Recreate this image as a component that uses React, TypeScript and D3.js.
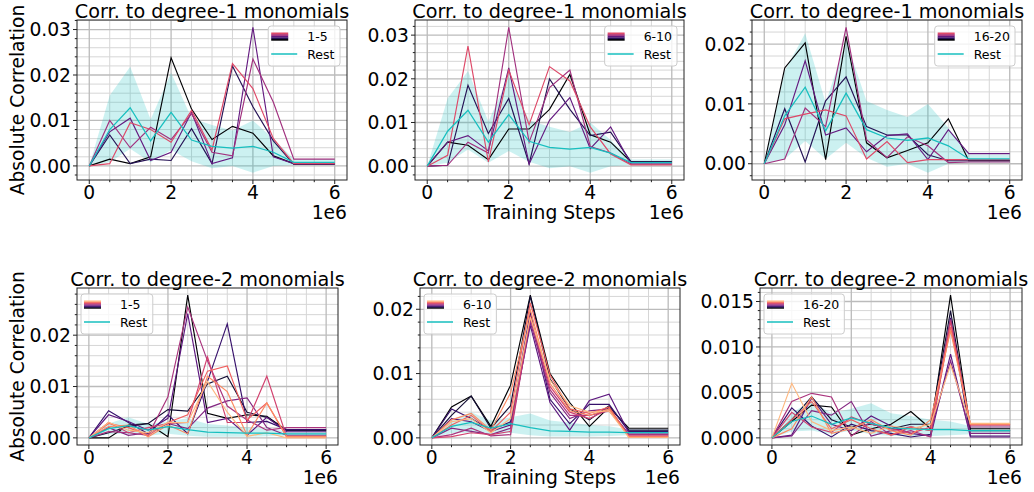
import React from 'react';
import * as d3 from 'd3';

// x positions shared by every panel (training steps)
const steps = [0, 500000, 1000000, 1500000, 2000000, 2500000, 3000000, 3500000, 4000000, 4500000, 5000000, 5500000, 6000000];
const xTickLabels = ['0', '2', '4', '6'];

// "Rest" curve and its band, degree-1 row
const restTopMean = [0, 0.0080, 0.0128, 0.0055, 0.0118, 0.0057, 0.0043, 0.0039, 0.0043, 0.0030, 0.0008, 0.0008, 0.0008];
const restTopHigh = [0, 0.0155, 0.0218, 0.0102, 0.0205, 0.0105, 0.0090, 0.0078, 0.0100, 0.0060, 0.0015, 0.0015, 0.0015];
const restTopLow = [0, 0.0008, 0.0038, 0.0008, 0.0035, 0.0010, -0.0005, 0.0000, -0.0015, 0.0000, 0.0002, 0.0002, 0.0002];

// "Rest" curve and its band, degree-2 row
const restBotMean = [0, 0.0018, 0.0024, 0.0015, 0.0022, 0.0016, 0.0011, 0.0010, 0.0009, 0.0009, 0.0008, 0.0008, 0.0008];
const restBotHigh = [0, 0.0028, 0.0040, 0.0027, 0.0032, 0.0038, 0.0027, 0.0024, 0.0020, 0.0018, 0.0013, 0.0013, 0.0013];
const restBotLow = [0, 0.0007, 0.0008, 0.0004, 0.0008, 0.0004, 0.0002, 0.0002, 0.0002, 0.0003, 0.0004, 0.0004, 0.0004];

// degree-1, neurons 1-5
const tl0 = [0, 0.0015, 0.0005, 0.0020, 0.0238, 0.0125, 0.0058, 0.0087, 0.0072, 0.0022, 0.0005, 0.0005, 0.0005];
const tl1 = [0, 0.0068, 0.0005, 0.0015, 0.0012, 0.0082, 0.0005, 0.0220, 0.0130, 0.0055, 0.0003, 0.0003, 0.0003];
const tl2 = [0, 0.0075, 0.0105, 0.0012, 0.0030, 0.0118, 0.0005, 0.0018, 0.0305, 0.0020, 0.0005, 0.0005, 0.0005];
const tl3 = [0, 0.0100, 0.0040, 0.0085, 0.0058, 0.0115, 0.0030, 0.0022, 0.0235, 0.0140, 0.0015, 0.0015, 0.0015];
const tl4 = [0, 0.0005, 0.0095, 0.0080, 0.0052, 0.0122, 0.0035, 0.0225, 0.0170, 0.0060, 0.0005, 0.0005, 0.0005];

// degree-1, neurons 6-10
const tm0 = [0, 0.0055, 0.0048, 0.0015, 0.0085, 0.0085, 0.0130, 0.0210, 0.0072, 0.0055, 0.0010, 0.0010, 0.0010];
const tm1 = [0, 0.0002, 0.0185, 0.0075, 0.0155, 0.0005, 0.0200, 0.0130, 0.0070, 0.0078, 0.0010, 0.0010, 0.0010];
const tm2 = [0, 0.0055, 0.0070, 0.0035, 0.0225, 0.0005, 0.0105, 0.0157, 0.0040, 0.0090, 0.0005, 0.0005, 0.0005];
const tm3 = [0, 0.0002, 0.0055, 0.0030, 0.0318, 0.0055, 0.0180, 0.0220, 0.0045, 0.0030, 0.0005, 0.0005, 0.0005];
const tm4 = [0, 0.0025, 0.0275, 0.0010, 0.0220, 0.0095, 0.0228, 0.0195, 0.0090, 0.0028, 0.0003, 0.0003, 0.0003];

// degree-1, neurons 16-20
const tr0 = [0, 0.0160, 0.0202, 0.0007, 0.0213, 0.0035, 0.0010, 0.0022, 0.0035, 0.0075, 0.0005, 0.0005, 0.0005];
const tr1 = [0, 0.0092, 0.0003, 0.0105, 0.0145, 0.0062, 0.0048, 0.0048, 0.0015, 0.0005, 0.0005, 0.0005, 0.0005];
const tr2 = [0, 0.0065, 0.0172, 0.0048, 0.0060, 0.0020, 0.0047, 0.0050, 0.0007, 0.0057, 0.0017, 0.0017, 0.0017];
const tr3 = [0, 0.0008, 0.0093, 0.0062, 0.0228, 0.0040, 0.0010, 0.0045, 0.0030, 0.0002, 0.0003, 0.0003, 0.0003];
const tr4 = [0, 0.0075, 0.0083, 0.0090, 0.0080, 0.0008, 0.0037, 0.0002, 0.0007, 0.0007, 0.0007, 0.0007, 0.0007];

// degree-2, neurons 1-5
const bl0 = [0, 0.0000, 0.0025, 0.0028, 0.0002, 0.0278, 0.0048, 0.0038, 0.0045, 0.0042, 0.0015, 0.0015, 0.0015];
const bl1 = [0, 0.0010, 0.0022, 0.0028, 0.0055, 0.0052, 0.0105, 0.0120, 0.0050, 0.0040, 0.0015, 0.0015, 0.0015];
const bl2 = [0, 0.0053, 0.0030, 0.0008, 0.0045, 0.0008, 0.0110, 0.0222, 0.0030, 0.0032, 0.0016, 0.0016, 0.0016];
const bl3 = [0, 0.0045, 0.0032, 0.0015, 0.0038, 0.0242, 0.0030, 0.0038, 0.0005, 0.0040, 0.0012, 0.0012, 0.0012];
const bl4 = [0, 0.0020, 0.0005, 0.0010, 0.0028, 0.0018, 0.0058, 0.0072, 0.0078, 0.0020, 0.0005, 0.0005, 0.0005];
const bl5 = [0, 0.0012, 0.0010, 0.0005, 0.0080, 0.0255, 0.0150, 0.0062, 0.0035, 0.0015, 0.0020, 0.0020, 0.0020];
const bl6 = [0, 0.0030, 0.0010, 0.0020, 0.0028, 0.0030, 0.0158, 0.0030, 0.0030, 0.0120, 0.0002, 0.0002, 0.0002];
const bl7 = [0, 0.0028, 0.0020, 0.0005, 0.0030, 0.0045, 0.0130, 0.0140, 0.0035, 0.0068, 0.0002, 0.0002, 0.0002];
const bl8 = [0, 0.0022, 0.0025, 0.0002, 0.0025, 0.0008, 0.0120, 0.0090, 0.0005, 0.0068, 0.0003, 0.0003, 0.0003];
const bl9 = [0, 0.0030, 0.0015, 0.0010, 0.0030, 0.0030, 0.0110, 0.0050, 0.0003, 0.0010, 0.0000, 0.0000, 0.0000];

// degree-2, neurons 6-10
const bm0 = [0, 0.0048, 0.0065, 0.0018, 0.0082, 0.0222, 0.0100, 0.0055, 0.0018, 0.0048, 0.0015, 0.0015, 0.0015];
const bm1 = [0, 0.0035, 0.0065, 0.0015, 0.0050, 0.0220, 0.0092, 0.0045, 0.0028, 0.0050, 0.0012, 0.0012, 0.0012];
const bm2 = [0, 0.0045, 0.0030, 0.0012, 0.0025, 0.0195, 0.0060, 0.0022, 0.0052, 0.0052, 0.0010, 0.0010, 0.0010];
const bm3 = [0, 0.0030, 0.0025, 0.0010, 0.0020, 0.0175, 0.0055, 0.0012, 0.0058, 0.0068, 0.0008, 0.0008, 0.0008];
const bm4 = [0, 0.0015, 0.0010, 0.0005, 0.0015, 0.0180, 0.0070, 0.0030, 0.0042, 0.0045, 0.0006, 0.0006, 0.0006];
const bm5 = [0, 0.0005, 0.0015, 0.0003, 0.0005, 0.0185, 0.0075, 0.0035, 0.0035, 0.0042, 0.0005, 0.0005, 0.0005];
const bm6 = [0, 0.0002, 0.0008, 0.0005, 0.0010, 0.0190, 0.0080, 0.0040, 0.0030, 0.0045, 0.0003, 0.0003, 0.0003];
const bm7 = [0, 0.0020, 0.0035, 0.0010, 0.0040, 0.0210, 0.0098, 0.0045, 0.0038, 0.0048, 0.0002, 0.0002, 0.0002];
const bm8 = [0, 0.0028, 0.0038, 0.0012, 0.0070, 0.0200, 0.0085, 0.0042, 0.0035, 0.0045, 0.0001, 0.0001, 0.0001];
const bm9 = [0, 0.0025, 0.0030, 0.0008, 0.0030, 0.0188, 0.0090, 0.0050, 0.0040, 0.0042, 0.0001, 0.0001, 0.0001];

// degree-2, neurons 16-20
const br0 = [0, 0.0018, 0.0036, 0.0034, 0.0003, 0.0010, 0.0015, 0.0029, 0.0010, 0.0157, 0.0010, 0.0010, 0.0010];
const br1 = [0, 0.0020, 0.0045, 0.0020, 0.0012, 0.0015, 0.0010, 0.0015, 0.0015, 0.0140, 0.0008, 0.0008, 0.0008];
const br2 = [0, 0.0033, 0.0013, 0.0001, 0.0015, 0.0008, 0.0005, 0.0001, 0.0004, 0.0132, 0.0002, 0.0002, 0.0002];
const br3 = [0, 0.0003, 0.0044, 0.0015, 0.0008, 0.0024, 0.0013, 0.0005, 0.0002, 0.0092, 0.0001, 0.0001, 0.0001];
const br4 = [0, 0.0002, 0.0030, 0.0025, 0.0040, 0.0002, 0.0008, 0.0012, 0.0008, 0.0085, 0.0005, 0.0005, 0.0005];
const br5 = [0, 0.0040, 0.0049, 0.0045, 0.0002, 0.0018, 0.0003, 0.0008, 0.0001, 0.0130, 0.0012, 0.0012, 0.0012];
const br6 = [0, 0.0028, 0.0012, 0.0006, 0.0023, 0.0015, 0.0010, 0.0005, 0.0012, 0.0128, 0.0014, 0.0014, 0.0014];
const br7 = [0, 0.0020, 0.0040, 0.0010, 0.0020, 0.0010, 0.0003, 0.0012, 0.0008, 0.0122, 0.0015, 0.0015, 0.0015];
const br8 = [0, 0.0010, 0.0045, 0.0005, 0.0010, 0.0020, 0.0008, 0.0003, 0.0020, 0.0118, 0.0015, 0.0015, 0.0015];
const br9 = [0, 0.0060, 0.0018, 0.0008, 0.0012, 0.0005, 0.0013, 0.0010, 0.0015, 0.0080, 0.0016, 0.0016, 0.0016];

const FONT = 'DejaVu Sans, sans-serif';
const REST = '#17bfbf';
const topColors = [0, 0.15, 0.3, 0.45, 0.6].map(t => d3.interpolateMagma(t));
const botColors = d3.range(10).map(i => d3.interpolateMagma((i / 9) * 0.85));

const panels = [
  { left: 77, right: 347, top: 20, bottom: 180, title: 'Corr. to degree-1 monomials', label: '1-5', series: [tl0, tl1, tl2, tl3, tl4], colors: topColors, mean: restTopMean, high: restTopHigh, low: restTopLow, yStep: 0.01, legendRight: true, ylabel: true, xlabel: false },
  { left: 415, right: 684, top: 20, bottom: 180, title: 'Corr. to degree-1 monomials', label: '6-10', series: [tm0, tm1, tm2, tm3, tm4], colors: topColors, mean: restTopMean, high: restTopHigh, low: restTopLow, yStep: 0.01, legendRight: true, ylabel: false, xlabel: true },
  { left: 752, right: 1022, top: 20, bottom: 180, title: 'Corr. to degree-1 monomials', label: '16-20', series: [tr0, tr1, tr2, tr3, tr4], colors: topColors, mean: restTopMean, high: restTopHigh, low: restTopLow, yStep: 0.01, legendRight: true, ylabel: false, xlabel: false },
  { left: 77, right: 338, top: 288, bottom: 445, title: 'Corr. to degree-2 monomials', label: '1-5', series: [bl0, bl1, bl2, bl3, bl4, bl5, bl6, bl7, bl8, bl9], colors: botColors, mean: restBotMean, high: restBotHigh, low: restBotLow, yStep: 0.01, legendRight: false, ylabel: true, xlabel: false },
  { left: 420, right: 680, top: 288, bottom: 445, title: 'Corr. to degree-2 monomials', label: '6-10', series: [bm0, bm1, bm2, bm3, bm4, bm5, bm6, bm7, bm8, bm9], colors: botColors, mean: restBotMean, high: restBotHigh, low: restBotLow, yStep: 0.01, legendRight: false, ylabel: false, xlabel: true },
  { left: 760, right: 1022, top: 288, bottom: 445, title: 'Corr. to degree-2 monomials', label: '16-20', series: [br0, br1, br2, br3, br4, br5, br6, br7, br8, br9], colors: botColors, mean: restBotMean, high: restBotHigh, low: restBotLow, yStep: 0.005, legendRight: false, ylabel: false, xlabel: false },
];

const textWidth = (s: string, size: number) => {
  const w: Record<string, number> = { '-': 0.361, R: 0.695, e: 0.615, s: 0.521, t: 0.392 };
  return s.split('').reduce((a, c) => a + (w[c] ?? 0.636), 0) * size;
};

const Panel = ({ p }: { p: any }) => {
  const x = d3.scaleLinear().domain([-300000, 6300000]).range([p.left, p.right]);
  const vals = [...p.series.flat(), ...p.high, ...p.low];
  const lo = Math.min(0, d3.min(vals) as number);
  const hi = d3.max(vals) as number;
  const pad = (hi - lo) * 0.05;
  const y = d3.scaleLinear().domain([lo - pad, hi + pad]).range([p.bottom, p.top]);

  const line = d3.line<number>().x((_, i) => x(steps[i])).y(d => y(d));
  const band = d3.area<number>().x((_, i) => x(steps[i])).y0((_, i) => y(p.low[i])).y1(d => y(d));

  const xMajor = [0, 2000000, 4000000, 6000000];
  const xMinor = d3.range(0, 13).map(k => k * 500000).filter(v => v % 2000000 !== 0);
  const [d0, d1] = y.domain();
  const minorStep = p.yStep / 5;
  const yMinorAll = d3.range(Math.ceil(d0 / minorStep), Math.floor(d1 / minorStep) + 1);
  const yMajor = yMinorAll.filter(k => k % 5 === 0).map(k => k * minorStep);
  const yMinor = yMinorAll.filter(k => k % 5 !== 0).map(k => k * minorStep);
  const decimals = p.yStep < 0.01 ? 3 : 2;
  const fmt = d3.format(`.${decimals}f`);

  // legend
  const textW = Math.max(textWidth(p.label, 12.5), textWidth('Rest', 12.5));
  const lw = 44 + textW;
  const lx = p.legendRight ? p.right - 7 - lw : p.left + 4;
  const ly = p.top + 6;
  const n = p.colors.length;
  const stripeH = 8 / n;

  return (
    <g>
      {/* grid */}
      {xMinor.map(v => (
        <line key={'gx' + v} x1={x(v)} x2={x(v)} y1={p.top} y2={p.bottom} stroke="#d6d6d6" strokeWidth={1} />
      ))}
      {yMinor.map(v => (
        <line key={'gy' + v} x1={p.left} x2={p.right} y1={y(v)} y2={y(v)} stroke="#d6d6d6" strokeWidth={1} />
      ))}
      {xMajor.map(v => (
        <line key={'Gx' + v} x1={x(v)} x2={x(v)} y1={p.top} y2={p.bottom} stroke="#bbbbbb" strokeWidth={1.3} />
      ))}
      {yMajor.map(v => (
        <line key={'Gy' + v} x1={p.left} x2={p.right} y1={y(v)} y2={y(v)} stroke="#bbbbbb" strokeWidth={1.3} />
      ))}

      {/* rest band */}
      <path d={band(p.high) as string} fill={REST} fillOpacity={0.22} stroke="none" />

      {/* neuron lines */}
      {p.series.map((s: number[], i: number) => (
        <path key={'s' + i} d={line(s) as string} fill="none" stroke={p.colors[i]} strokeWidth={1.15} />
      ))}
      <path d={line(p.mean) as string} fill="none" stroke={REST} strokeWidth={1.25} />

      {/* spines */}
      <rect x={p.left} y={p.top} width={p.right - p.left} height={p.bottom - p.top} fill="none" stroke="#222" strokeWidth={1} />

      {/* x ticks */}
      {xMajor.map((v, i) => (
        <g key={'xt' + v}>
          <line x1={x(v)} x2={x(v)} y1={p.bottom} y2={p.bottom + 4} stroke="#222" />
          <text x={x(v)} y={p.bottom + 19} textAnchor="middle" fontSize={18.7} fontFamily={FONT} fill="#000">{xTickLabels[i]}</text>
        </g>
      ))}
      {xMinor.map(v => (
        <line key={'xm' + v} x1={x(v)} x2={x(v)} y1={p.bottom} y2={p.bottom + 2.2} stroke="#222" />
      ))}
      <text x={p.right} y={p.bottom + 38.5} textAnchor="end" fontSize={18.7} fontFamily={FONT} fill="#000">1e6</text>
      {p.xlabel && (
        <text x={(p.left + p.right) / 2} y={p.bottom + 38.5} textAnchor="middle" fontSize={18.7} fontFamily={FONT} fill="#000">Training Steps</text>
      )}

      {/* y ticks */}
      {yMajor.map(v => (
        <g key={'yt' + v}>
          <line x1={p.left - 4} x2={p.left} y1={y(v)} y2={y(v)} stroke="#222" />
          <text x={p.left - 6} y={y(v) + 6.7} textAnchor="end" fontSize={18.7} fontFamily={FONT} fill="#000">{fmt(Math.abs(v) < 1e-12 ? 0 : v)}</text>
        </g>
      ))}
      {yMinor.map(v => (
        <line key={'ym' + v} x1={p.left - 2.2} x2={p.left} y1={y(v)} y2={y(v)} stroke="#222" />
      ))}
      {p.ylabel && (
        <text transform={`translate(23.5,${(p.top + p.bottom) / 2}) rotate(-90)`} textAnchor="middle" fontSize={18.7} fontFamily={FONT} fill="#000">Absolute Correlation</text>
      )}

      {/* title */}
      <text x={(p.left + p.right) / 2} y={p.top - 2.3} textAnchor="middle" fontSize={19.2} fontFamily={FONT} fill="#000">{p.title}</text>

      {/* legend */}
      <g>
        <rect x={lx} y={ly} width={lw} height={40} rx={3} fill="#fff" fillOpacity={0.8} stroke="#cccccc" />
        {p.colors.map((c: string, i: number) => (
          <rect key={'lg' + i} x={lx + 3} y={ly + 6.5 + (n - 1 - i) * stripeH} width={17} height={stripeH + 0.2} fill={c} />
        ))}
        <text x={lx + 39} y={ly + 15} fontSize={12.5} fontFamily={FONT} fill="#000">{p.label}</text>
        <line x1={lx + 3} x2={lx + 29} y1={ly + 28} y2={ly + 28} stroke={REST} strokeWidth={1.5} />
        <text x={lx + 39} y={ly + 32.5} fontSize={12.5} fontFamily={FONT} fill="#000">Rest</text>
      </g>
    </g>
  );
};

const App = () => {
  return (
    <svg width={1034} height={492} style={{ position: 'absolute', left: 0, top: 0, background: '#fff' }}>
      {panels.map((p, i) => (
        <Panel key={i} p={p} />
      ))}
    </svg>
  );
};

export default App;
